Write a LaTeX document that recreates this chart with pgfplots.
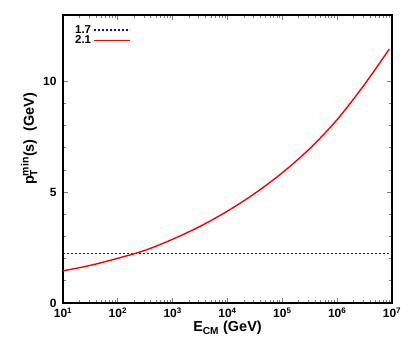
\documentclass[border=0pt]{standalone}
\usepackage{pgfplots}
\pgfplotsset{compat=1.18}
\usepackage{fontspec}
\setmainfont{Liberation Sans}
\definecolor{gpblue}{RGB}{0,0,255}
\definecolor{gpred}{RGB}{255,0,0}
\begin{document}
\begin{tikzpicture}
\begin{axis}[
    scale only axis,
    width=329bp, height=288bp,
    xmode=log,
    xmin=10, xmax=1e7,
    ymin=0, ymax=13,
    xtick={10,100,1000,10000,100000,1000000,10000000},
    xticklabels={10\textsuperscript{1},10\textsuperscript{2},10\textsuperscript{3},10\textsuperscript{4},10\textsuperscript{5},10\textsuperscript{6},10\textsuperscript{7}},
    ytick={0,5,10},
    minor y tick num=4,
    tick align=inside,
    major tick length=5bp,
    minor tick length=3bp,
    axis line style={line width=1.3pt},
    tick style={line width=0.9pt},
    tick label style={font=\bfseries\fontsize{12}{14}\selectfont},
    xticklabel style={yshift=-1bp},
    yticklabel style={xshift=-3bp},
    /pgf/number format/assume math mode=true,
    xlabel={E\textsubscript{CM} (GeV)},
    ylabel={p$^{\mbox{\fontsize{10.5}{12}\selectfont min}}_{\mbox{\fontsize{10.5}{12}\selectfont T}}$(s)~~(GeV)},
    label style={font=\bfseries\fontsize{14.5}{17}\selectfont},
    xlabel style={yshift=3bp},
    ylabel style={at={(ticklabel cs:0.57)}, yshift=-1bp},
    legend style={draw=none, fill=none, at={(rel axis cs:0,1)}, anchor=north west,
        xshift=7bp, yshift=-6bp, font=\bfseries\fontsize{11.5}{12}\selectfont,
        legend cell align=right, row sep=-3bp},
    legend plot pos=right,
    legend image code/.code={\draw[#1] (3bp,0bp) -- (39bp,0bp);},
]
\addplot[color=gpblue, line width=1.5pt, dash pattern=on 2bp off 2bp]
    coordinates {(10,2.23) (1e7,2.23)};
\addlegendentry{1.7}
\addplot[color=gpred, line width=1.4pt, smooth]
    coordinates {
    (10,1.45) (31.6,1.70) (100,2.02) (316,2.38) (1000,2.88) (3162,3.46)
    (10000,4.15) (31623,4.95) (100000,5.88) (316228,6.97) (1000000,8.28)
    (3162278,9.87) (8900000,11.46)
};
\addlegendentry{2.1}
\coordinate (sw) at (rel axis cs:0,0);
\coordinate (ne) at (rel axis cs:1,1);
\end{axis}
\pgfresetboundingbox
\path[use as bounding box] ([shift={(-63bp,-54bp)}]sw) rectangle ([shift={(23bp,15bp)}]ne);
\end{tikzpicture}
\end{document}
